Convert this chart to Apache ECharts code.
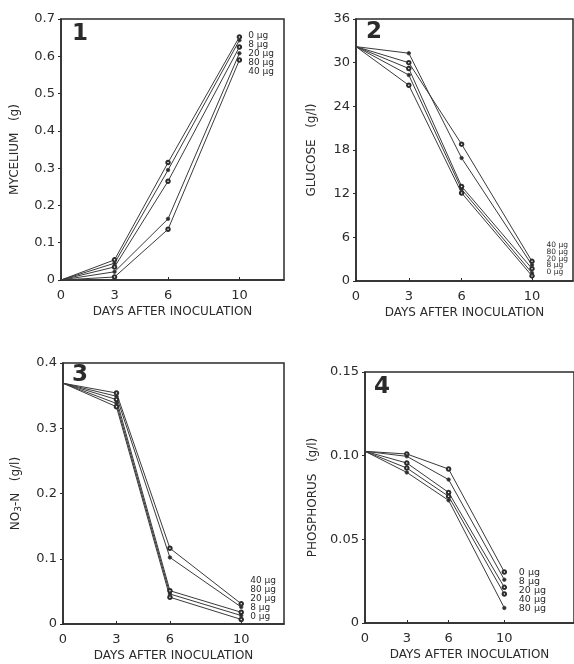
<!DOCTYPE html>
<html>
<head>
<meta charset="utf-8">
<script src="https://cdn.jsdelivr.net/npm/echarts@6/dist/echarts.min.js"></script>
<style>
  html, body { margin: 0; padding: 0; background: #fff; }
  #chart { width: 574px; height: 664px; }
</style>
</head>
<body>
<div id="chart"></div>
<script>
// days sampled
const days = [0, 3, 6, 10];
const doses = ['0 µg', '8 µg', '20 µg', '40 µg', '80 µg'];
// open / filled marker per dose
const doseSymbols = ['emptyCircle', 'circle', 'emptyCircle', 'emptyCircle', 'circle'];

// panel 1 - mycelium (g), rows follow doses
const mycelium = [
  [0, 0.054, 0.315, 0.652],
  [0, 0.045, 0.295, 0.643],
  [0, 0.035, 0.265, 0.625],
  [0, 0.008, 0.136, 0.590],
  [0, 0.022, 0.164, 0.608]
];
// panel 2 - glucose (g/l)
const glucose = [
  [32.2, 26.9, 12.1, 0.7],
  [32.2, 28.3, 12.6, 1.1],
  [32.2, 29.2, 13.0, 1.7],
  [32.2, 30.0, 18.8, 2.7],
  [32.2, 31.3, 16.9, 2.2]
];
// panel 3 - NO3-N (g/l)
const nitrate = [
  [0.369, 0.333, 0.041, 0.007],
  [0.369, 0.338, 0.046, 0.013],
  [0.369, 0.344, 0.051, 0.018],
  [0.369, 0.354, 0.116, 0.031],
  [0.369, 0.349, 0.102, 0.026]
];
// panel 4 - phosphorus (g/l)
const phosphorus = [
  [0.1026, 0.1010, 0.0920, 0.0305],
  [0.1026, 0.0996, 0.0857, 0.0259],
  [0.1026, 0.0956, 0.0780, 0.0213],
  [0.1026, 0.0926, 0.0757, 0.0173],
  [0.1026, 0.0900, 0.0733, 0.0090]
];

// legend order as printed next to day 10 in each panel
const legend1 = ['0 µg', '8 µg', '20 µg', '80 µg', '40 µg'];
const legend2 = ['40 µg', '80 µg', '20 µg', '8 µg', '0 µg'];
const legend3 = ['40 µg', '80 µg', '20 µg', '8 µg', '0 µg'];
const legend4 = ['0 µg', '8 µg', '20 µg', '40 µg', '80 µg'];

const ink = '#2b2b2b';
const font = 'DejaVu Sans';

const grids = [
  { left: 61, top: 19, width: 223, height: 261 },
  { left: 356, top: 19, width: 217, height: 262 },
  { left: 63, top: 363, width: 221, height: 261 },
  { left: 365, top: 372, width: 215, height: 251 }
];
const xMax = [12.5, 12.33, 12.4, 15];

const yConf = [
  { min: 0, max: 0.7, interval: 0.1, dec: 1, name: 'MYCELIUM   (g)', gap: 40 },
  { min: 0, max: 36, interval: 6, dec: 0, name: 'GLUCOSE   (g/l)', gap: 38 },
  { min: 0, max: 0.4, interval: 0.1, dec: 1, name: '{t|NO}{s|3}{t|-N   (g/l)}', gap: 40 },
  { min: 0, max: 0.15, interval: 0.05, dec: 2, name: 'PHOSPHORUS   (g/l)', gap: 46 }
];

const xAxis = grids.map((g, i) => ({
  gridIndex: i,
  type: 'value',
  min: 0,
  max: xMax[i],
  name: 'DAYS AFTER INOCULATION',
  nameLocation: 'middle',
  nameGap: 26,
  nameTextStyle: { fontFamily: font, fontSize: 12, color: ink },
  axisLine: { lineStyle: { color: ink, width: 1.5 } },
  axisTick: { inside: true, length: 3, customValues: days, lineStyle: { color: ink } },
  axisLabel: { customValues: days, fontFamily: font, fontSize: 13, color: ink, margin: 9 },
  splitLine: { show: false }
}));

const yAxis = yConf.map((c, i) => ({
  gridIndex: i,
  type: 'value',
  min: c.min,
  max: c.max,
  interval: c.interval,
  name: c.name,
  nameLocation: 'middle',
  nameRotate: 90,
  nameGap: c.gap,
  nameTextStyle: {
    fontFamily: font, fontSize: 12, color: ink,
    rich: {
      t: { fontFamily: font, fontSize: 12, color: ink },
      s: { fontFamily: font, fontSize: 9, color: ink, padding: [6, 0, 0, 0] }
    }
  },
  axisLine: { show: true, lineStyle: { color: ink, width: 1.5 } },
  axisTick: { inside: false, length: 3, lineStyle: { color: ink } },
  axisLabel: {
    fontFamily: font, fontSize: 13, color: ink, margin: 6,
    formatter: v => (Math.abs(v) < 1e-9 ? '0' : v.toFixed(c.dec))
  },
  splitLine: { show: false }
}));

const panels = [mycelium, glucose, nitrate, phosphorus];
const series = [];
panels.forEach((rows, p) => {
  rows.forEach((vals, d) => {
    series.push({
      name: doses[d],
      type: 'line',
      xAxisIndex: p,
      yAxisIndex: p,
      data: vals.map((v, k) => ({ value: [days[k], v], symbol: k === 0 ? 'none' : doseSymbols[d] })),
      symbolSize: 3.5,
      lineStyle: { color: '#3a3a3a', width: 1 },
      itemStyle: { color: ink, borderColor: '#444', borderWidth: 0.8 },
      animation: false,
      silent: true
    });
  });
});

function legendText(list, x, y, lineH, size) {
  return {
    type: 'text',
    right: 574 - x,
    top: y,
    style: {
      text: list.join('\n'),
      font: size + 'px ' + font,
      fill: ink,
      align: 'right',
      lineHeight: lineH
    }
  };
}

function panelNum(t, x, y) {
  return {
    type: 'text', left: x, top: y,
    style: { text: t, font: 'bold 23px ' + font, fill: ink }
  };
}

const chart = echarts.init(document.getElementById('chart'), null, { renderer: 'canvas' });
chart.setOption({
  backgroundColor: '#fff',
  animation: false,
  grid: grids.map(g => Object.assign({ show: true, borderColor: ink, borderWidth: 1.5, backgroundColor: 'transparent' }, g)),
  xAxis,
  yAxis,
  series,
  graphic: [
    panelNum('1', 72, 23),
    panelNum('2', 366, 21),
    panelNum('3', 72, 364),
    panelNum('4', 374, 376),
    legendText(legend1, 274, 31, 9, 9),
    legendText(legend2, 568, 241, 6.8, 7.5),
    legendText(legend3, 276, 576, 9, 9),
    legendText(legend4, 546, 568, 9, 9.5)
  ]
});
</script>
</body>
</html>
